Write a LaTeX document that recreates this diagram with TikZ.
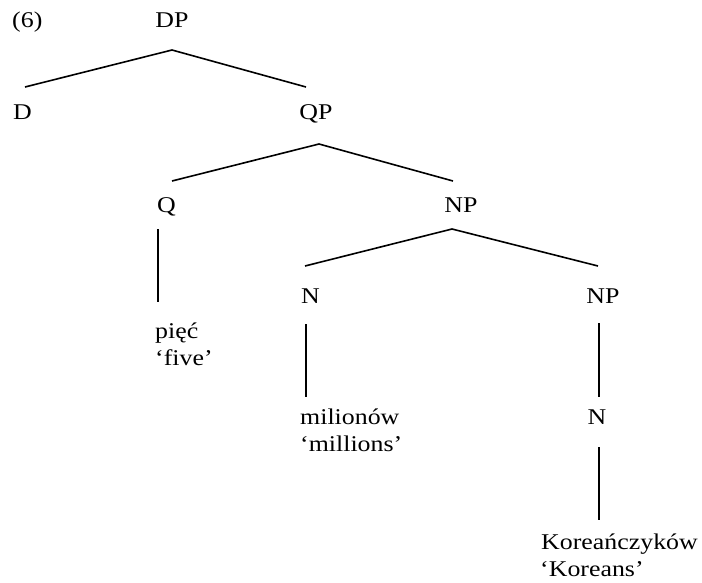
\documentclass[tikz,border=0pt]{standalone}
\usepackage{fontspec}
\setmainfont{Liberation Serif}[FakeStretch=1.15]
\begin{document}
\begin{tikzpicture}[x=1pt,y=-1pt,
  lbl/.style={inner sep=0pt,anchor=base,font=\fontsize{22.5}{27}\selectfont},
  lblw/.style={lbl,anchor=base west},
  branch/.style={line width=1.6pt,line cap=butt}]
\useasboundingbox (0,0) rectangle (702,582);

% labels
\node[lblw] (ex) at (12,27) {(6)};
\node[lbl]  (DP) at (172,27) {DP};
\node[lblw] (D) at (13,119) {D};
\node[lbl]  (QP) at (316,119) {QP};
\node[lblw] (Q) at (157,212) {Q};
\node[lbl]  (NPa) at (461,212) {NP};
\node[lblw] (Na) at (301,303) {N};
\node[lbl]  (NPb) at (603,303) {NP};
\node[lblw] (piec) at (155,338) {pięć};
\node[lblw] (five) at (155,365) {‘five’};
\node[lblw] (milionow) at (300,424) {milionów};
\node[lblw] (millions) at (300,451) {‘millions’};
\node[lbl]  (Nb) at (597,424) {N};
\node[lblw] (koreanczykow) at (541,549) {Koreańczyków};
\node[lblw] (koreans) at (540,576) {‘Koreans’};

% branch end points
\coordinate (DP-top) at (172,50);
\coordinate (DP-l) at (25,87);
\coordinate (DP-r) at (306,87);
\coordinate (QP-top) at (319,144);
\coordinate (QP-l) at (172,181);
\coordinate (QP-r) at (453,181);
\coordinate (NPa-top) at (452,229);
\coordinate (NPa-l) at (305,266);
\coordinate (NPa-r) at (598,266);
\coordinate (Q-top) at (158,229);
\coordinate (Q-bot) at (158,302);
\coordinate (Na-top) at (306,324);
\coordinate (Na-bot) at (306,397);
\coordinate (NPb-top) at (599,323);
\coordinate (NPb-bot) at (599,397);
\coordinate (Nb-top) at (599,447);
\coordinate (Nb-bot) at (599,520);

% branches
\draw[branch] (DP-l) -- (DP-top) -- (DP-r);
\draw[branch] (QP-l) -- (QP-top) -- (QP-r);
\draw[branch] (NPa-l) -- (NPa-top) -- (NPa-r);
\draw[branch] (Q-top) -- (Q-bot);
\draw[branch] (Na-top) -- (Na-bot);
\draw[branch] (NPb-top) -- (NPb-bot);
\draw[branch] (Nb-top) -- (Nb-bot);
\end{tikzpicture}
\end{document}
